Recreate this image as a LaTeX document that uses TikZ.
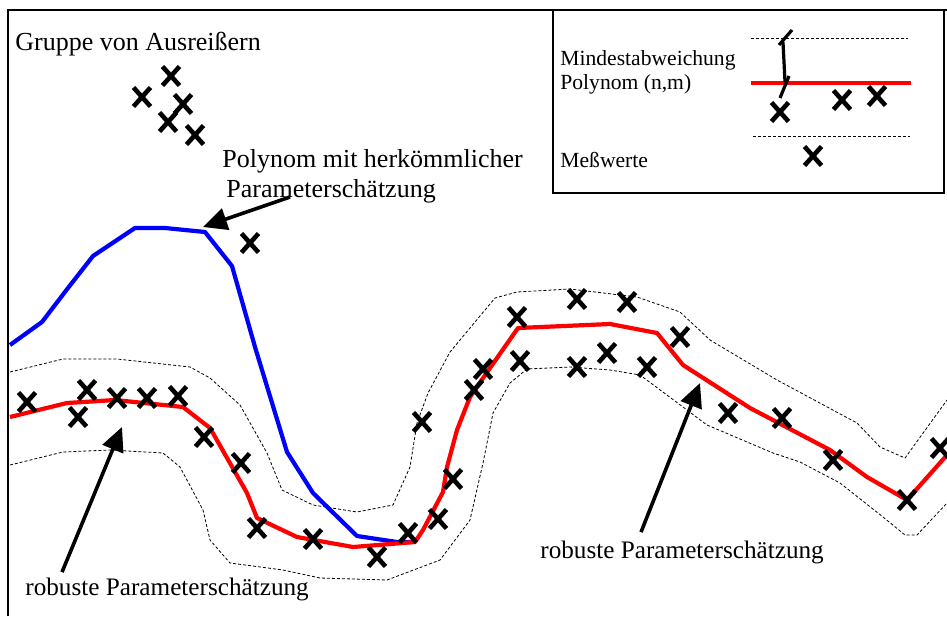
\documentclass[tikz,border=0pt]{standalone}
\usepackage{fontspec}
\setmainfont{Liberation Serif}
\usetikzlibrary{arrows.meta}

\begin{document}
\begin{tikzpicture}[x=0.5pt,y=-0.5pt,
  kurve/.style={line width=2.1pt,line join=round},
  band/.style={line width=0.4pt,dash pattern=on 1.5pt off 1pt},
  pfeil/.style={line width=1.8pt,-{Triangle[length=12pt,width=11pt]}},
  txt/.style={inner sep=0pt,anchor=base west,font=\fontsize{13}{15}\selectfont},
  legtxt/.style={inner sep=0pt,anchor=base west,font=\fontsize{10.8}{12}\selectfont},
  kreuz/.pic={\draw[line width=2.3pt] (-8.5,-9.5)--(8.5,9.5) (-8.5,9.5)--(8.5,-9.5);}]

        \useasboundingbox (0,0) rectangle (947,616);
        \draw[line width=1pt] (8,616)--(8,10)--(947,10);

        % Toleranzband um das robuste Polynom
        \draw[band] plot coordinates {(10,372) (63,359) (117,359) (190,367) (210,378)
          (240,405) (267,453) (282,490) (313,505) (357,512) (393,505) (410,467)
          (417,423) (428,393) (450,352) (495,298) (517,292) (570,289) (637,297)
          (680,312) (710,340) (777,380) (857,423) (880,447) (905,458) (947,400)};
        \draw[band] plot coordinates {(10,465) (63,452) (110,450) (163,453) (180,467)
          (203,510) (210,540) (230,563) (283,570) (320,578) (387,580) (440,560)
          (470,520) (483,463) (493,413) (510,383) (527,369) (570,367) (610,370)
          (640,375) (683,407) (707,425) (773,453) (800,462) (840,483) (883,517)
          (905,535) (917,535) (947,503)};

        \draw[kurve,blue] plot coordinates {(10,345) (42,322) (68,288) (93,256)
          (135,228) (165,228) (205,232) (232,266) (255,347) (287,452) (313,493)
          (357,536) (397,542) (412,542)};
        \draw[kurve,red] plot coordinates {(10,417) (67,403) (115,400) (183,407)
          (210,428) (247,493) (257,518) (297,537) (353,547) (415,542) (423,530)
          (443,492) (447,467) (457,430) (470,397) (490,368) (518,328) (610,324)
          (657,333) (683,365) (750,408) (830,450) (867,477) (907,500) (947,455)};

        \foreach \px/\py in {171/76,142/97,183/104,168/122,195/135,250/243,
          27/402,87/390,78/417,117/398,147/398,178/396,204/437,241/463,257/528,
          313/539,377/557,408/533,422/422,438/519,453/479,474/390,483/369,
          517/317,520/361,577/299,577/367,607/353,627/302,647/367,680/337,
          728/413,782/418,833/460,907/500,940/448}
          \pic at (\px,\py) {kreuz};

        \node[txt] (ausr) at (15,50) {Gruppe von Ausreißern};
        \node[txt] (konvA) at (222,167) {Polynom mit herkömmlicher};
        \node[txt] (konvB) at (226,197) {Parameterschätzung};
        \node[txt,font=\fontsize{12.6}{15}\selectfont] (robL) at (25,595) {robuste Parameterschätzung};
        \node[txt,font=\fontsize{12.6}{15}\selectfont] (robR) at (540,558) {robuste Parameterschätzung};

        \coordinate (K) at (203,227);
        \coordinate (RL) at (122,427);
        \coordinate (RR) at (700,383);
        \draw[pfeil] (konvB.base west)++(64,0) -- (K);
        \draw[pfeil] (robL.north west)++(37,-5) -- (RL);
        \draw[pfeil] (robR.north west)++(101,-8) -- (RR);

        % Legende
        \draw[line width=0.6pt] (553,10) rectangle (944,193);
        \draw[band] (751,38)--(908,38);
        \draw[band] (753,136)--(910,136);
        \draw[line width=2.1pt,red] (751,83)--(911,83);
        \draw[line width=1.6pt] (783,42)--(785,82);
        \draw[line width=1.6pt] (779,45)--(792,30);
        \draw[line width=1.6pt] (780,98)--(789,76);
        \foreach \px/\py in {780/112,842/100,877/96,813/156}
          \pic at (\px,\py) {kreuz};
        \node[legtxt] (mind) at (560,65) {Mindestabweichung};
        \node[legtxt] (poly) at (560,89) {Polynom (n,m)};
        \node[legtxt] (mess) at (560,167) {Meßwerte};
\end{tikzpicture}
\end{document}
